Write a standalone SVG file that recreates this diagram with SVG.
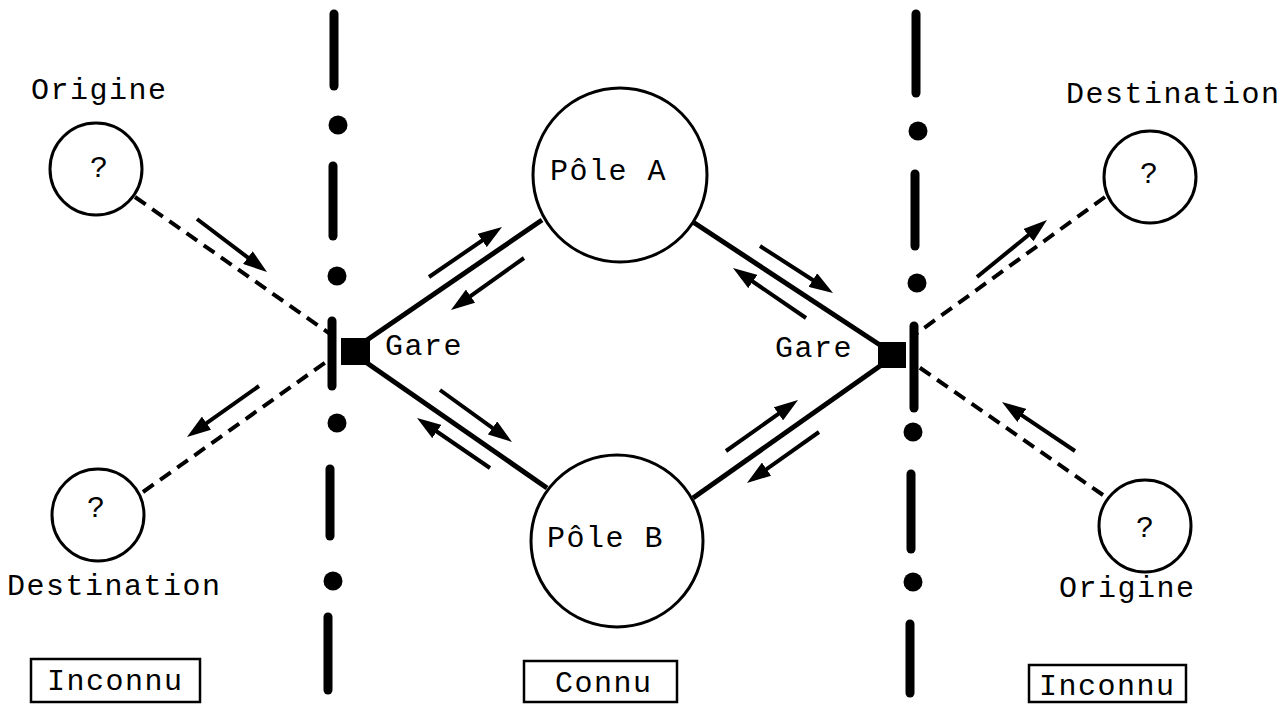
<svg xmlns="http://www.w3.org/2000/svg" width="1281" height="704" viewBox="0 0 1281 704">
  <style>
    text { font-family: "Liberation Mono", "DejaVu Sans Mono", monospace; font-size: 30px; letter-spacing: 1.5px; fill: #000; }
    .node { fill: #fff; stroke: #000; stroke-width: 3; }
    .bar { stroke: #000; stroke-width: 9; stroke-linecap: round; }
    .dot { fill: #000; }
    .link { stroke: #000; stroke-width: 5; fill: none; }
    .dash { stroke: #000; stroke-width: 4; stroke-dasharray: 13 8; fill: none; }
    .flow { stroke: #000; stroke-width: 4; fill: none; marker-end: url(#head); }
    .label-box { fill: none; stroke: #000; stroke-width: 2.5; }
  </style>
  <defs>
    <marker id="head" viewBox="0 0 24 16" refX="16" refY="8" markerWidth="24" markerHeight="16" markerUnits="userSpaceOnUse" orient="auto">
      <path d="M0,0 L24,8 L0,16 z" fill="#000"/>
    </marker>
  </defs>
  <rect width="1281" height="704" fill="#fff"/>

  <!-- boundary lines (dash-dot) -->
  <g id="boundary-left">
    <line class="bar" x1="334" y1="14" x2="334" y2="86"/>
    <circle class="dot" cx="338" cy="125" r="9.5"/>
    <line class="bar" x1="333" y1="166" x2="333" y2="236"/>
    <circle class="dot" cx="337" cy="276" r="9.5"/>
    <line class="bar" x1="332" y1="321" x2="332" y2="386"/>
    <circle class="dot" cx="337" cy="423" r="9.5"/>
    <line class="bar" x1="330" y1="469" x2="330" y2="536"/>
    <circle class="dot" cx="333" cy="581" r="9.5"/>
    <line class="bar" x1="328" y1="617" x2="328" y2="690"/>
  </g>
  <g id="boundary-right">
    <line class="bar" x1="916" y1="14" x2="916" y2="93"/>
    <circle class="dot" cx="918" cy="131" r="9.5"/>
    <line class="bar" x1="915" y1="174" x2="915" y2="246"/>
    <circle class="dot" cx="917" cy="283" r="9.5"/>
    <line class="bar" x1="914" y1="326" x2="914" y2="408"/>
    <circle class="dot" cx="913" cy="432" r="9.5"/>
    <line class="bar" x1="911" y1="474" x2="911" y2="549"/>
    <circle class="dot" cx="913" cy="582" r="9.5"/>
    <line class="bar" x1="910" y1="624" x2="910" y2="693"/>
  </g>

  <!-- connectors -->
  <g id="connectors">
    <line class="link" x1="367" y1="340" x2="542" y2="220"/>
    <line class="link" x1="367" y1="363" x2="547" y2="488"/>
    <line class="link" x1="693" y1="222" x2="880" y2="345"/>
    <line class="link" x1="693" y1="498" x2="880" y2="366"/>
    <line class="dash" x1="135" y1="197" x2="333" y2="336"/>
    <line class="dash" x1="143" y1="492" x2="333" y2="357"/>
    <line class="dash" x1="1105" y1="197" x2="913" y2="336"/>
    <line class="dash" x1="1103" y1="495" x2="913" y2="363"/>
  </g>

  <!-- flow arrows -->
  <g id="flows">
    <line class="flow" x1="197" y1="219" x2="260.6" y2="267.2"/>
    <line class="flow" x1="259" y1="386" x2="193.5" y2="432.4"/>
    <line class="flow" x1="429" y1="277" x2="495.4" y2="231.5"/>
    <line class="flow" x1="524" y1="258" x2="457.5" y2="305.4"/>
    <line class="flow" x1="440" y1="390" x2="505.5" y2="437.3"/>
    <line class="flow" x1="490" y1="468" x2="423.6" y2="422.5"/>
    <line class="flow" x1="760" y1="246" x2="826.3" y2="288.7"/>
    <line class="flow" x1="806" y1="318" x2="739.6" y2="272.5"/>
    <line class="flow" x1="726" y1="451" x2="791.5" y2="404.6"/>
    <line class="flow" x1="819" y1="432" x2="753.5" y2="478.4"/>
    <line class="flow" x1="977" y1="277" x2="1040.8" y2="225"/>
    <line class="flow" x1="1075" y1="451" x2="1008.6" y2="406.5"/>
  </g>

  <!-- stations -->
  <g id="gare-left">
    <rect x="341" y="338" width="29" height="27" fill="#000"/>
    <text x="385" y="355">Gare</text>
  </g>
  <g id="gare-right">
    <rect x="878" y="342" width="28" height="26" fill="#000"/>
    <text x="775" y="357">Gare</text>
  </g>

  <!-- poles -->
  <g id="pole-a">
    <circle class="node" cx="620" cy="175" r="87"/>
    <text x="550" y="180">Pôle A</text>
  </g>
  <g id="pole-b">
    <circle class="node" cx="617" cy="541" r="86"/>
    <text x="547" y="547">Pôle B</text>
  </g>

  <!-- unknown origins / destinations -->
  <g id="origin-left">
    <text x="31" y="99">Origine</text>
    <circle class="node" cx="96" cy="169" r="46"/>
    <text x="90" y="177">?</text>
  </g>
  <g id="destination-left">
    <circle class="node" cx="98" cy="515" r="46"/>
    <text x="87" y="517">?</text>
    <text x="7" y="595">Destination</text>
  </g>
  <g id="destination-right">
    <text x="1066" y="103">Destination</text>
    <circle class="node" cx="1150" cy="177" r="46"/>
    <text x="1140" y="183">?</text>
  </g>
  <g id="origin-right">
    <circle class="node" cx="1145" cy="526" r="46"/>
    <text x="1136" y="537">?</text>
    <text x="1059" y="597">Origine</text>
  </g>

  <!-- zone labels -->
  <g id="zone-left">
    <rect class="label-box" x="31" y="659" width="169" height="43"/>
    <text x="47" y="690">Inconnu</text>
  </g>
  <g id="zone-center">
    <rect class="label-box" x="524" y="661" width="153" height="41"/>
    <text x="555" y="692">Connu</text>
  </g>
  <g id="zone-right">
    <rect class="label-box" x="1029" y="665" width="157" height="37"/>
    <text x="1039" y="695">Inconnu</text>
  </g>
</svg>
